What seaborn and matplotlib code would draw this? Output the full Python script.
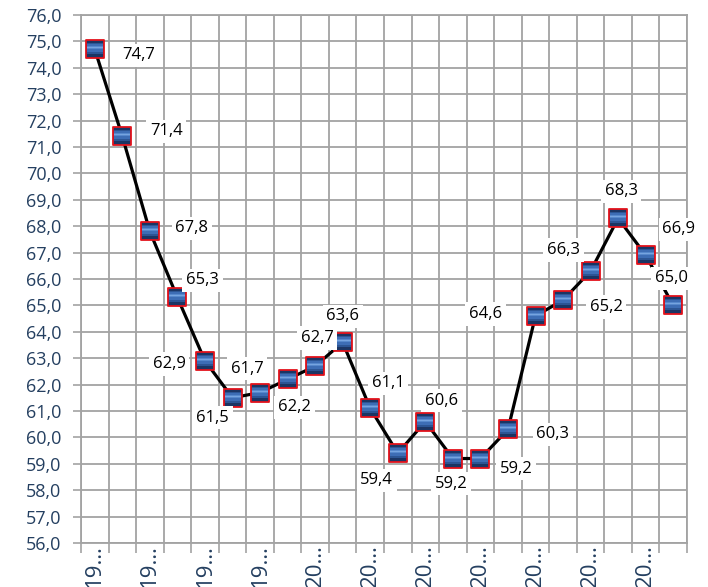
import numpy as np
import pandas as pd
import matplotlib.pyplot as plt
import seaborn as sns
from matplotlib.ticker import FixedLocator, FuncFormatter, MultipleLocator

# data
years = ['1992', '1993', '1994', '1995', '1996', '1997', '1998', '1999', '2000', '2001', '2002',
         '2003', '2004', '2005', '2006', '2007', '2008', '2009', '2010', '2011', '2012', '2013']
values = [74.7, 71.4, 67.8, 65.3, 62.9, 61.5, 61.7, 62.2, 62.7, 63.6, 61.1,
          59.4, 60.6, 59.2, 59.2, 60.3, 64.6, 65.2, 66.3, 68.3, 66.9, 65.0]

# where each data label sits relative to its point (pixels, x right / y up)
label_offsets = [(44, -6), (44, 5), (42, 3), (25, 17), (-36, -3), (-20, -20), (-13, 24),
                 (7, -28), (2, 28), (0, 26), (18, 25), (-21, -27), (16, 21), (-2, -25),
                 (36, -10), (45, -5), (-50, 2), (43, -7), (-27, 21), (3, 27), (33, 26), (-2, 27)]

df = pd.DataFrame({'pos': np.arange(len(values)), 'year': years, 'value': values})

sns.set_theme(style='white')
plt.rcParams['font.family'] = ['Open Sans', 'DejaVu Sans']

navy = '#243F60'
grid_col = '#A3A3A3'

fig = plt.figure(figsize=(7.08, 5.87), dpi=100)
ax = fig.add_axes([81 / 708, 1 - 543 / 587, 606 / 708, 528 / 587])

sns.lineplot(data=df, x='pos', y='value', color='black', linewidth=2.3, ax=ax, zorder=3)

# square markers with a rough vertical gradient (dark top/bottom, light band above middle)
sns.scatterplot(data=df, x='pos', y='value', marker='s', s=180, color='#1B3564',
                edgecolor='#E3121B', linewidth=1.3, ax=ax, zorder=4)
bands = [
    ([(-1, -0.55), (1, -0.55), (1, 0.75), (-1, 0.75)], '#2C5594'),
    ([(-1, -0.3), (1, -0.3), (1, 0.55), (-1, 0.55)], '#3D6DB5'),
    ([(-1, -0.05), (1, -0.05), (1, 0.4), (-1, 0.4)], '#5688CC'),
    ([(-1, 0.1), (1, 0.1), (1, 0.28), (-1, 0.28)], '#76A4E0'),
]
for verts, col in bands:
    ax.plot(df['pos'], df['value'], linestyle='none', marker=verts,
            markersize=12.2, color=col, markeredgewidth=0, zorder=5)

for (x, y), (dx, dy) in zip(zip(df['pos'], df['value']), label_offsets):
    ax.annotate(f'{y:.1f}'.replace('.', ','), (x, y), xytext=(dx, dy),
                textcoords='offset pixels', ha='center', va='center',
                fontsize=12, color='black', zorder=8,
                bbox=dict(boxstyle='square,pad=0.22', facecolor='white', edgecolor='none'))

ax.set_xlim(-0.5, len(values) - 0.5)
ax.set_ylim(56, 76)
ax.yaxis.set_major_locator(MultipleLocator(1))
ax.yaxis.set_major_formatter(FuncFormatter(lambda v, p: f'{v:.1f}'.replace('.', ',')))

# major ticks on category borders carry the grid, minor ticks carry the labels
ax.xaxis.set_major_locator(FixedLocator(np.arange(-0.5, len(values), 1)))
ax.xaxis.set_major_formatter(FuncFormatter(lambda v, p: ''))
ax.xaxis.set_minor_locator(FixedLocator(df['pos'][::2]))
ax.set_xticklabels([y[:2] + '…' for y in years[::2]], minor=True, rotation=90,
                   fontsize=16, color=navy, va='top', ha='center')

ax.tick_params(axis='x', which='major', length=7, width=1.2, color=grid_col, direction='out', bottom=True)
ax.tick_params(axis='x', which='minor', length=0, pad=1)
ax.tick_params(axis='y', length=6, width=1.2, color=grid_col, direction='out', left=True,
               labelsize=13, labelcolor=navy, pad=8)

ax.grid(True, which='major', color=grid_col, linewidth=1.3)
ax.set_axisbelow(True)
for side in ax.spines.values():
    side.set_color(grid_col)
    side.set_linewidth(1.3)

ax.set_xlabel('')
ax.set_ylabel('')

plt.savefig('out.png', dpi=100)
